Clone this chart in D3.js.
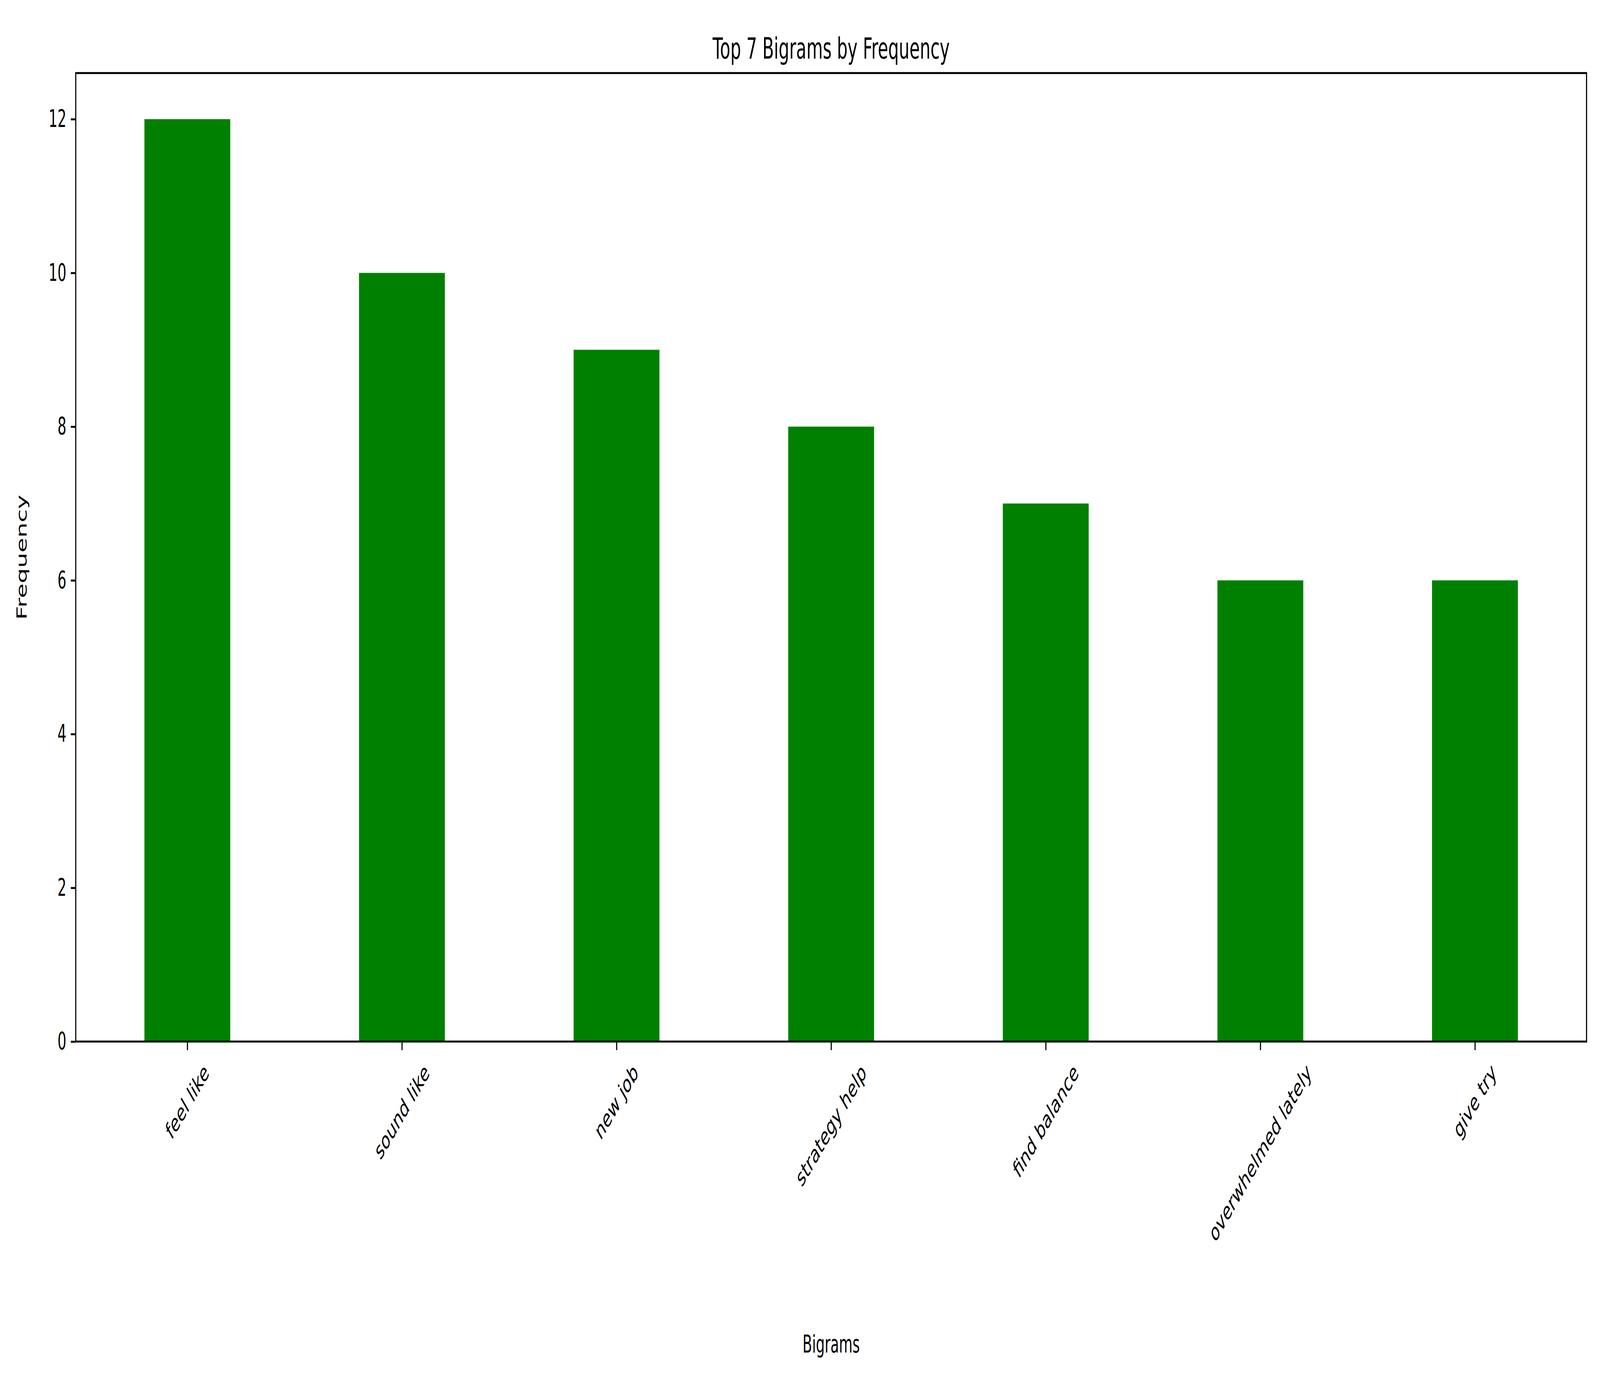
<!DOCTYPE html>
<html><head><meta charset="utf-8">
<script src="https://cdn.jsdelivr.net/npm/d3@7"></script>
<style>html,body{margin:0;padding:0;background:#fff;overflow:hidden;width:100%;height:100%}svg{display:block}text{font-family:"DejaVu Sans",sans-serif}</style>
</head><body>
<script>
const categories=["feel like","sound like","new job","strategy help","find balance","overwhelmed lately","give try"];
const values=[12,10,9,8,7,6,6];
const yTicks=[0,2,4,6,8,10,12];

const W=7140,H=3540,L=338,R=7080,T=187,B=2666;
const svg=d3.select("body").append("svg").attr("viewBox",`0 0 ${W} ${H}`)
 .attr("preserveAspectRatio","none").style("width","100vw").style("height","100vh");
const x=d3.scaleLinear().domain([-0.52,6.52]).range([L,R]);
const y=d3.scaleLinear().domain([0,12.6]).range([B,T]);
const fs=62;

svg.selectAll("rect.bar").data(values).enter().append("rect")
 .attr("x",(d,i)=>x(i-0.2)).attr("width",(d,i)=>x(i+0.2)-x(i-0.2))
 .attr("y",d=>y(d)).attr("height",d=>y(0)-y(d)).attr("fill","#008000");

const ya=svg.append("g").attr("transform",`translate(${L},0)`)
 .call(d3.axisLeft(y).tickValues(yTicks).tickFormat(d3.format("d")).tickSize(22).tickPadding(20));
ya.select(".domain").remove();
ya.selectAll("line").attr("stroke-width",5);
ya.selectAll("text").attr("font-size",fs).attr("fill","#000");

const xa=svg.append("g").attr("transform",`translate(0,${B})`)
 .call(d3.axisBottom(x).tickValues(d3.range(categories.length)).tickFormat("").tickSize(22));
xa.select(".domain").remove();
xa.selectAll("line").attr("stroke-width",5);

categories.forEach((c,i)=>{
 const t=svg.append("text").attr("font-size",fs).attr("text-anchor","middle").attr("dominant-baseline","central").text(c);
 const w=t.node().getComputedTextLength();
 const bh=(w+fs*1.1)*Math.SQRT1_2;
 t.attr("transform",`translate(${x(i)},${B+44+bh/2}) rotate(-45)`);
});

svg.append("rect").attr("x",L).attr("y",T).attr("width",R-L).attr("height",B-T)
 .attr("fill","none").attr("stroke","#000").attr("stroke-width",5);

svg.append("text").attr("x",(L+R)/2).attr("y",150).attr("text-anchor","middle").attr("font-size",75).text("Top 7 Bigrams by Frequency");
svg.append("text").attr("x",(L+R)/2).attr("y",3462).attr("text-anchor","middle").attr("font-size",fs).text("Bigrams");
svg.append("text").attr("transform",`translate(118,${(T+B)/2}) rotate(-90)`).attr("text-anchor","middle").attr("font-size",fs).text("Frequency");
</script>
</body></html>
